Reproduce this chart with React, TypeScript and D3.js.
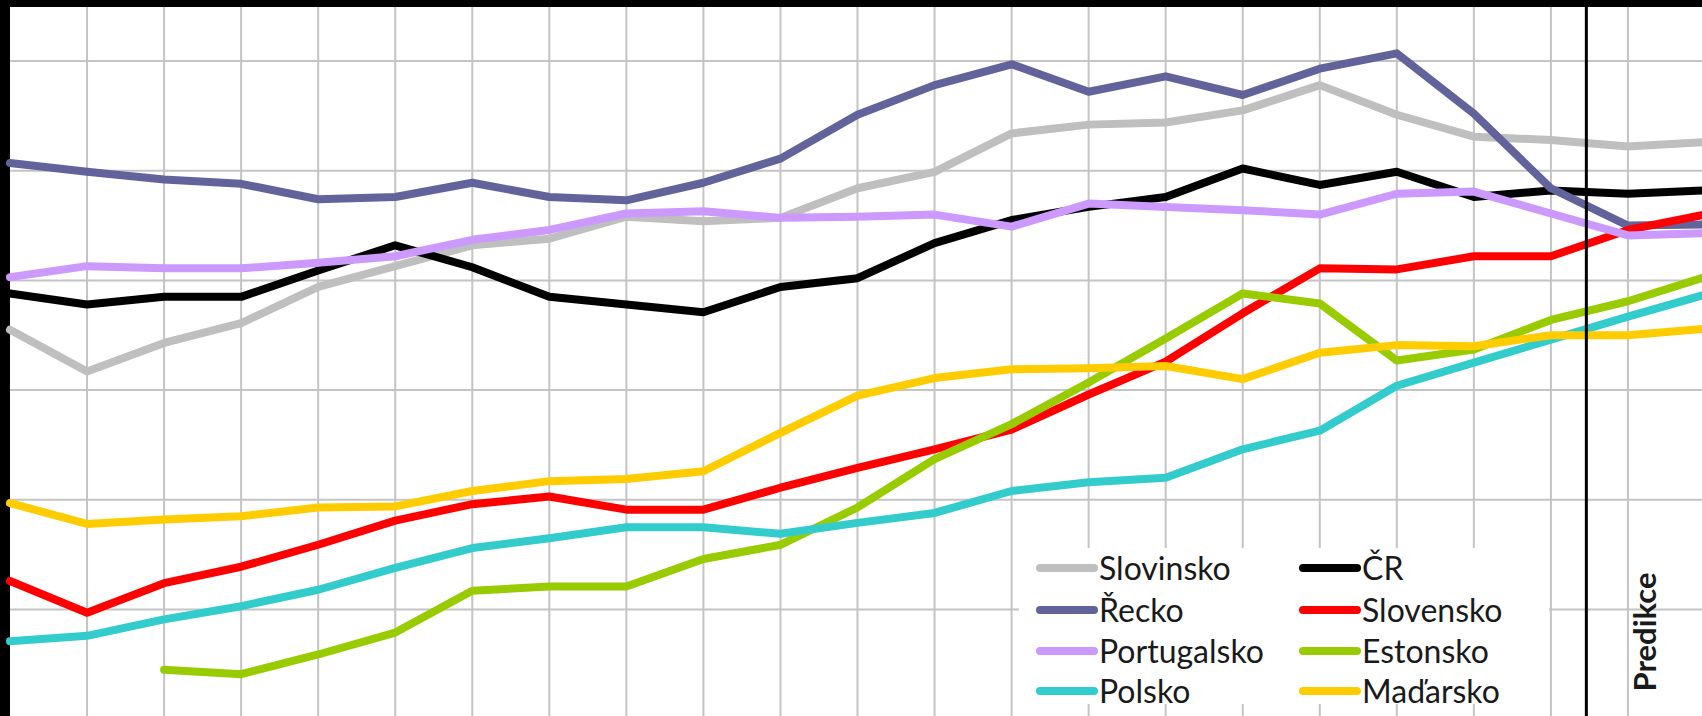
import { useEffect, useRef } from "react";
import * as d3 from "d3";

const W = 1702;
const H = 716;

const years = [1995, 1996, 1997, 1998, 1999, 2000, 2001, 2002, 2003, 2004, 2005, 2006, 2007, 2008, 2009, 2010, 2011, 2012, 2013, 2014, 2015, 2016, 2017];
const yTicks = [40, 50, 60, 70, 80, 90];
const predikceYear = 2015.46;

const slovinsko = [65.5, 61.7, 64.3, 66.1, 69.4, 71.3, 73.2, 73.8, 75.8, 75.4, 75.7, 78.4, 79.9, 83.4, 84.2, 84.4, 85.5, 87.8, 85.1, 83.1, 82.8, 82.2, 82.6];
const cr = [68.8, 67.8, 68.5, 68.5, 70.9, 73.2, 71.2, 68.5, 67.8, 67.1, 69.4, 70.2, 73.4, 75.5, 76.7, 77.6, 80.2, 78.7, 79.9, 77.6, 78.2, 77.9, 78.2];
const recko = [80.7, 79.9, 79.2, 78.8, 77.4, 77.6, 78.9, 77.6, 77.3, 78.9, 81.1, 85.1, 87.8, 89.7, 87.2, 88.6, 86.9, 89.3, 90.7, 85.2, 78.4, 75.0, 75.1];
const slovensko = [42.6, 39.7, 42.4, 43.9, 45.9, 48.1, 49.6, 50.3, 49.1, 49.1, 51.1, 52.9, 54.6, 56.4, 59.6, 62.6, 67.0, 71.1, 71.0, 72.2, 72.2, 74.6, 76.0];
const portugalsko = [70.3, 71.3, 71.1, 71.1, 71.6, 72.2, 73.7, 74.6, 76.1, 76.3, 75.7, 75.8, 76.0, 74.9, 77.0, 76.7, 76.4, 76.0, 77.9, 78.1, 76.1, 74.1, 74.3];
const estonsko = [null, null, 34.5, 34.1, 35.9, 37.9, 41.7, 42.1, 42.1, 44.6, 45.9, 49.3, 53.7, 56.9, 60.7, 64.7, 68.8, 67.9, 62.7, 63.7, 66.4, 68.1, 70.3];
const polsko = [37.1, 37.6, 39.1, 40.3, 41.8, 43.8, 45.6, 46.5, 47.5, 47.5, 46.9, 47.9, 48.8, 50.8, 51.6, 52.0, 54.6, 56.3, 60.4, 62.5, 64.6, 66.7, 68.7];
const madarsko = [49.7, 47.8, 48.2, 48.5, 49.3, 49.4, 50.8, 51.7, 51.9, 52.6, 56.1, 59.5, 61.1, 61.9, 62.0, 62.2, 61.0, 63.4, 64.1, 64.0, 65.0, 65.0, 65.6];

// legend order = drawing order (excel fills legend row by row)
const series = [
  { name: "Slovinsko", values: slovinsko, color: "#bfbfbf" },
  { name: "ČR", values: cr, color: "#000000" },
  { name: "Řecko", values: recko, color: "#63639c" },
  { name: "Slovensko", values: slovensko, color: "#ff0000" },
  { name: "Portugalsko", values: portugalsko, color: "#cc99ff" },
  { name: "Estonsko", values: estonsko, color: "#99cc00" },
  { name: "Polsko", values: polsko, color: "#33cccc" },
  { name: "Maďarsko", values: madarsko, color: "#ffcc00" },
];

const App = () => {
  const svgRef = useRef(null);

  useEffect(() => {
    document.body.style.margin = "0";
    const svg = d3.select(svgRef.current);

    const x = d3.scaleLinear().domain([1995, 2017]).range([10, 1705]);
    const y = d3.scaleLinear().domain([40, 90]).range([609.5, 61]);

    svg.append("rect").attr("width", W).attr("height", H).attr("fill", "#000");
    svg.append("rect").attr("x", 10).attr("y", 7).attr("width", W - 10).attr("height", H - 7).attr("fill", "#fff");

    const grid = svg.append("g").attr("stroke", "#c4c4c4").attr("stroke-width", 2);
    grid
      .selectAll("line.v")
      .data(years.slice(1))
      .join("line")
      .attr("class", "v")
      .attr("x1", (d) => x(d))
      .attr("x2", (d) => x(d))
      .attr("y1", 7)
      .attr("y2", H);
    grid
      .selectAll("line.h")
      .data(yTicks)
      .join("line")
      .attr("class", "h")
      .attr("x1", 10)
      .attr("x2", W)
      .attr("y1", (d) => y(d))
      .attr("y2", (d) => y(d));

    // legend box hides the grid behind it
    svg.append("rect").attr("x", 1019).attr("y", 548).attr("width", 530).attr("height", 156).attr("fill", "#fff");

    const line = d3
      .line()
      .defined((d) => d[1] != null)
      .x((d) => x(d[0]))
      .y((d) => y(d[1]));

    svg
      .append("g")
      .selectAll("path")
      .data(series)
      .join("path")
      .attr("fill", "none")
      .attr("stroke", (d) => d.color)
      .attr("stroke-width", 8)
      .attr("stroke-linejoin", "round")
      .attr("stroke-linecap", "round")
      .attr("d", (d) => line(years.map((yr, i) => [yr, d.values[i]])));

    svg
      .append("line")
      .attr("x1", x(predikceYear))
      .attr("x2", x(predikceYear))
      .attr("y1", 7)
      .attr("y2", H)
      .attr("stroke", "#000")
      .attr("stroke-width", 3);

    svg
      .append("text")
      .attr("transform", `translate(1656,632) rotate(-90)`)
      .attr("text-anchor", "middle")
      .style("font", "bold 31px Lato")
      .attr("fill", "#1a1a1a")
      .text("Predikce");

    const colX = [1037, 1300];
    const rowY = [568, 610, 651, 691];
    const leg = svg
      .append("g")
      .selectAll("g")
      .data(series)
      .join("g")
      .attr("transform", (d, i) => `translate(${colX[i % 2]},${rowY[Math.floor(i / 2)]})`);
    leg
      .append("line")
      .attr("x1", 3)
      .attr("x2", 57)
      .attr("stroke", (d) => d.color)
      .attr("stroke-width", 8)
      .attr("stroke-linecap", "round");
    leg
      .append("text")
      .attr("x", 62)
      .attr("dy", "0.36em")
      .style("font", "32px Lato")
      .attr("fill", "#1a1a1a")
      .text((d) => d.name);

    return () => svg.selectAll("*").remove();
  }, []);

  return <svg ref={svgRef} width={W} height={H} style={{ display: "block" }}></svg>;
};

export default App;
